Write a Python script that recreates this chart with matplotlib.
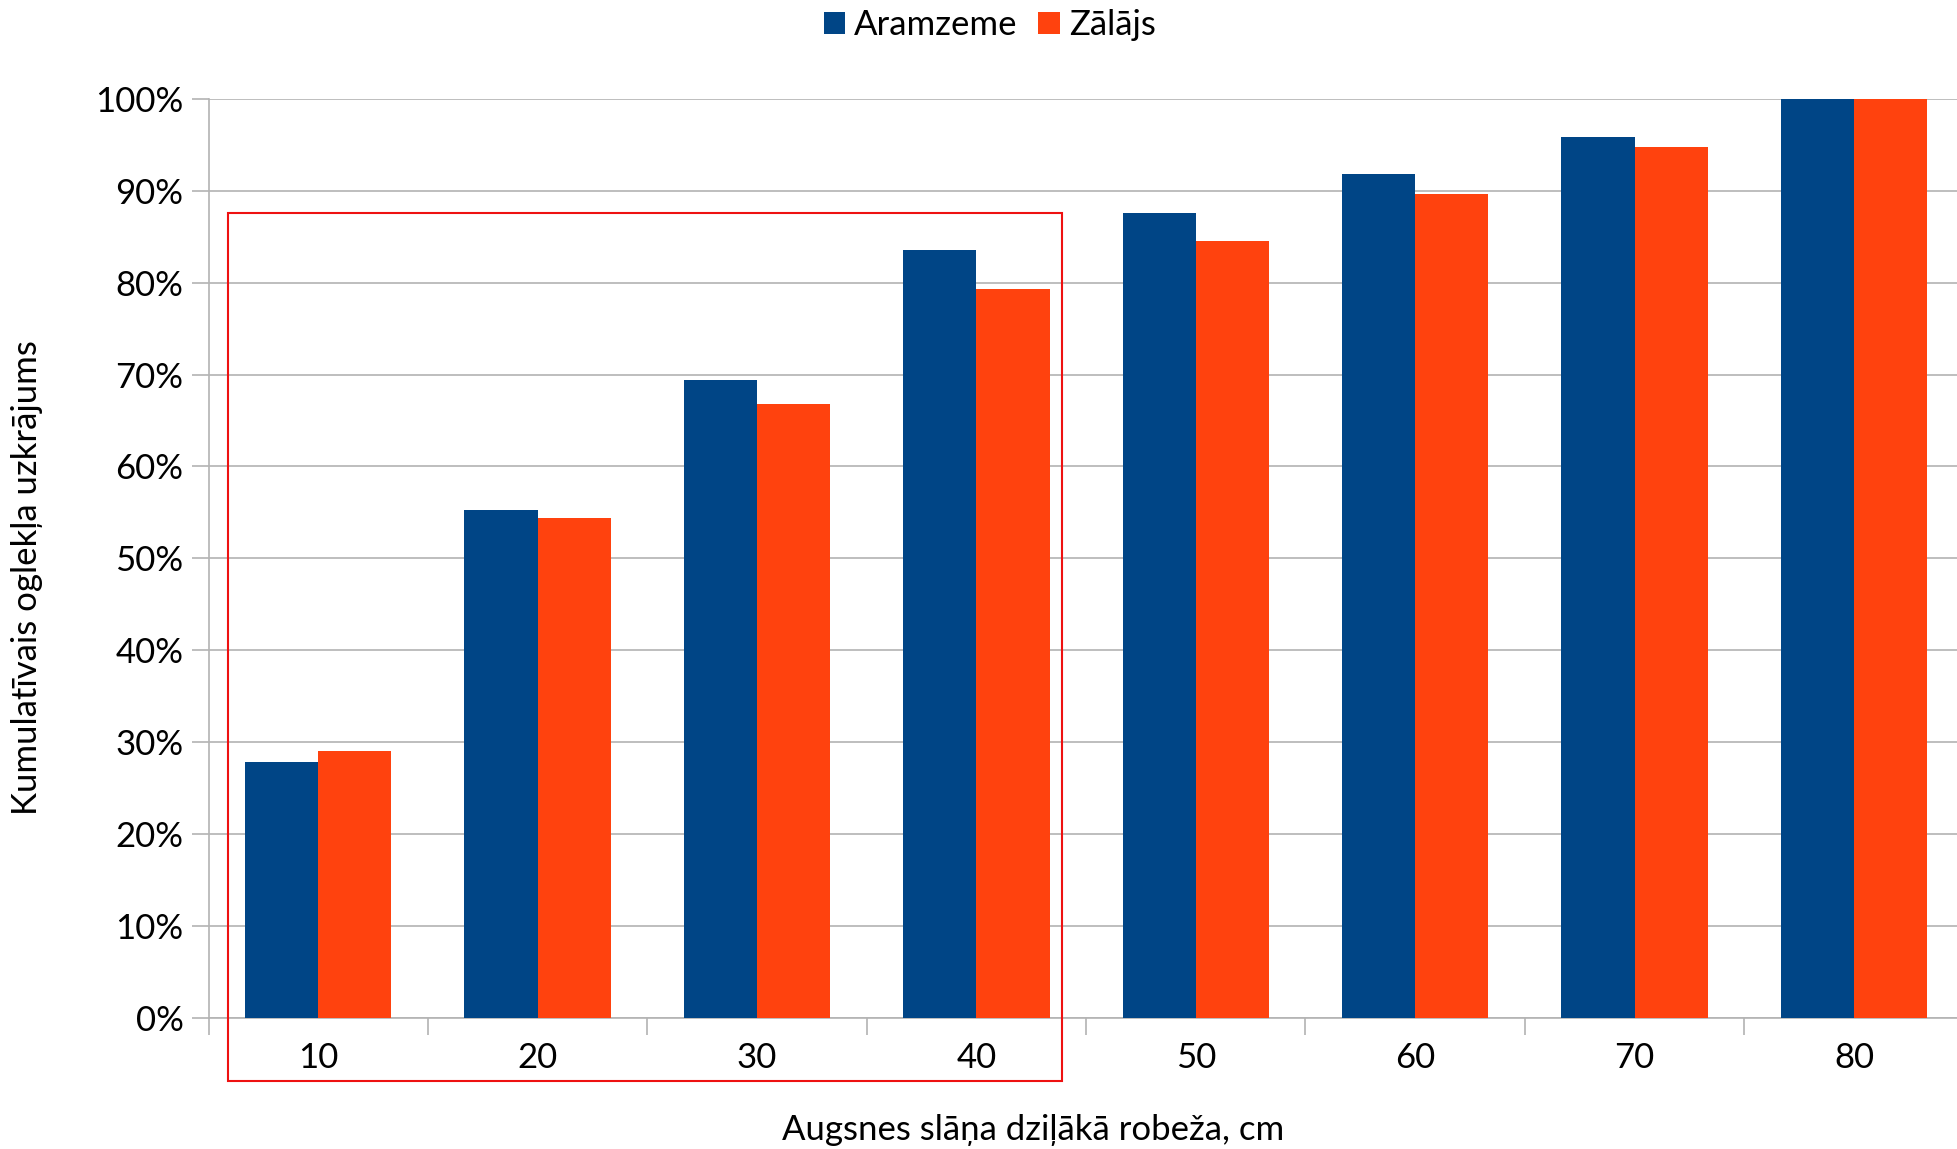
import numpy as np
import matplotlib.pyplot as plt
from matplotlib.patches import Rectangle
from matplotlib.ticker import PercentFormatter

plt.rcParams['font.family'] = ['Lato', 'DejaVu Sans']

# soil layer depth (lower boundary, cm)
depths = ['10', '20', '30', '40', '50', '60', '70', '80']
# cumulative carbon stock, %
aramzeme = [27.9, 55.3, 69.4, 83.6, 87.6, 91.8, 95.9, 100.0]
zalajs = [29.1, 54.4, 66.8, 79.3, 84.5, 89.6, 94.8, 100.0]

blue = '#004586'
orange = '#ff420e'
grid_c = '#b3b3b3'
fs = 25

fig = plt.figure(figsize=(19.58, 11.49), dpi=100)
ax = fig.add_axes([0.1065, 0.114, 0.8964, 0.8])

x = np.arange(len(depths))
w = 1 / 3
ax.bar(x - w / 2, aramzeme, w, color=blue, label='Aramzeme', zorder=3)
ax.bar(x + w / 2, zalajs, w, color=orange, label='Zālājs', zorder=3)

ax.set_xlim(-0.5, len(depths) - 0.5)
ax.set_ylim(0, 100)
ax.set_yticks(np.arange(0, 101, 10))
ax.yaxis.set_major_formatter(PercentFormatter(decimals=0))
ax.set_xticks(x)
ax.set_xticklabels(depths)
ax.set_xticks(np.arange(-0.5, len(depths), 1), minor=True)
ax.tick_params(axis='x', which='major', length=0, pad=17, labelsize=fs)
ax.tick_params(axis='x', which='minor', length=12, color=grid_c, width=1.2)
ax.tick_params(axis='y', length=12, color=grid_c, width=1.2, pad=6, labelsize=fs)

ax.grid(axis='y', color=grid_c, lw=1.2, zorder=0)
for s in ['top', 'right']:
    ax.spines[s].set_visible(False)
for s in ['left', 'bottom']:
    ax.spines[s].set_color(grid_c)
    ax.spines[s].set_linewidth(1.2)

fig.text(0.014, 0.497, 'Kumulatīvais oglekļa uzkrājums', fontsize=fs,
         rotation=90, ha='center', va='center')
fig.text(0.5276, 0.0165, 'Augsnes slāņa dziļākā robeža, cm', fontsize=fs,
         ha='center', va='center')

# highlight the top 40 cm
box = Rectangle((-0.41, -6.9), 3.8, 94.5, fill=False, edgecolor='#ee1111',
                lw=1.5, clip_on=False, zorder=4)
ax.add_patch(box)

fig.legend(loc='center', bbox_to_anchor=(0.5055, 0.978), ncol=2, frameon=False,
           fontsize=fs, handlelength=0.62, handleheight=0.62, handletextpad=0.25,
           columnspacing=0.6)

fig.savefig('out.png', dpi=100)
